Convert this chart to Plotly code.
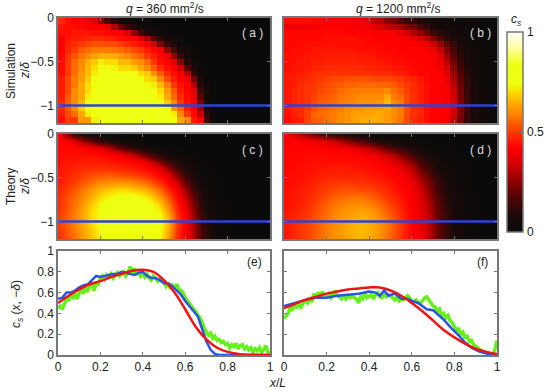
import plotly.graph_objects as go

W, H = 550, 392
FONT = "Liberation Sans"

# ---- panel (a): simulation q=360, percent values, rows from z=0 downward
sim_a = [
[48,44,42,42,40,36,25,16,10,6,4,2,1,1],
[45,44,44,43,42,42,41,38,30,20,12,7,4,2,1,1],
[44,44,45,45,45,44,44,43,42,40,36,25,15,9,5,3,1,1],
[42,45,46,46,47,48,48,47,46,44,43,42,36,28,18,11,6,3,1],
[42,46,48,50,52,53,53,52,52,50,48,46,44,42,33,22,12,7,3,1],
[42,47,50,54,56,58,58,58,57,56,54,52,50,46,43,40,26,16,8,4,1],
[43,49,53,57,60,63,65,65,64,62,60,57,54,50,46,43,38,25,13,6,2,1],
[44,50,56,60,65,68,72,70,70,66,66,62,60,56,50,44,42,36,24,10,4,1],
[44,50,56,60,66,70,74,76,73,70,70,68,64,60,54,48,44,42,34,18,7,2,1],
[44,50,56,62,66,72,78,78,78,78,76,76,70,68,60,54,48,44,40,30,12,4,1],
[46,52,58,62,68,74,78,79,79,80,78,78,76,70,68,60,52,46,42,38,22,7,2],
[46,52,58,64,70,76,78,80,80,80,80,80,80,76,72,66,58,50,44,42,30,10,3],
[46,52,60,64,70,78,80,80,80,80,80,80,78,78,74,70,62,54,46,42,36,14,4,1],
[46,54,60,64,72,78,80,80,80,80,80,80,80,78,76,72,64,56,48,43,38,18,5,1],
[48,54,60,66,74,78,80,80,80,80,80,80,80,80,78,76,68,60,50,44,40,22,6,1],
[48,54,60,68,74,78,80,80,80,80,80,80,80,80,80,78,74,62,55,46,42,28,8,2],
[46,52,56,64,72,76,79,80,80,80,80,80,80,80,80,80,76,72,60,50,43,32,10,2],
[44,50,50,62,62,72,76,78,78,78,80,80,80,80,80,80,80,78,64,60,45,42,15,3],
]

# ---- panel (b): simulation q=1200
sim_b = [
[44,44,44,44,43,43,42,42,42,42,41,40,38,32,30,24,22,18,14,12,9,7,5,4,3,3,2,2,1,1,1,1],
[39,39,40,40,40,41,41,41,41,41,41,40,40,38,35,32,30,28,24,22,16,12,8,5,4,3,2,2,1,1,1,1],
[43,43,43,43,43,43,43,43,43,42,42,42,42,41,41,41,40,38,35,30,26,20,14,10,7,5,4,3,2,1,1,1],
[43,43,43,43,43,43,44,44,44,44,44,43,43,42,42,42,41,41,40,38,34,30,24,16,11,8,6,4,3,2,1,1],
[43,43,44,44,44,44,44,44,44,44,44,44,43,43,43,42,42,42,41,41,40,38,33,26,18,12,8,5,4,2,1,1],
[43,44,44,44,45,45,45,45,45,45,45,44,44,44,43,43,43,42,42,42,41,41,38,32,23,15,9,6,4,3,2,1],
[44,44,44,45,45,45,46,46,46,46,46,46,45,45,44,44,43,43,43,42,42,42,41,36,27,18,11,7,5,3,2,1],
[44,44,45,45,46,46,47,47,47,47,47,46,46,46,45,45,44,44,43,43,42,42,41,39,31,21,13,8,5,3,2,1],
[44,45,45,46,47,47,48,48,48,48,48,48,47,47,46,46,45,45,44,43,43,42,42,40,34,24,14,9,6,3,2,1],
[45,45,46,47,48,49,49,50,49,49,49,49,49,48,48,48,47,46,45,44,43,43,42,41,36,27,17,10,6,4,2,1],
[45,46,47,48,49,50,51,52,52,53,53,53,53,52,52,52,51,50,48,47,45,43,42,41,38,29,19,11,7,4,2,1],
[45,46,48,49,50,51,52,53,54,55,55,56,56,56,55,55,54,52,50,48,46,44,42,41,40,31,20,12,7,4,3,1],
[45,47,48,49,50,52,53,54,56,57,58,58,58,58,58,60,56,54,51,48,46,44,42,41,41,33,21,13,8,5,3,1],
[45,47,48,49,51,53,54,55,57,58,59,60,60,60,60,64,58,56,52,49,46,44,42,42,41,34,22,13,8,5,3,1],
[45,47,48,49,52,54,55,56,58,59,60,61,61,61,62,66,60,58,52,49,47,44,42,42,41,35,23,14,8,5,3,1],
[45,47,48,50,53,55,56,57,58,60,61,61,62,62,63,64,60,58,53,49,47,44,42,42,41,35,23,14,8,5,3,1],
[44,46,48,51,55,56,57,58,60,61,62,63,63,64,64,62,60,58,52,49,47,44,42,42,41,34,22,13,8,5,3,1],
[43,45,46,51,54,55,57,58,60,61,63,64,65,65,64,62,60,57,52,48,46,44,42,41,40,32,21,12,7,5,3,1],
]

# ---- panel (c): theory q=360
thy_c = [
[44,24,12,6,4,2,1,1],
[43,41,36,27,19,13,9,5,3,2,1],
[43,43,43,42,40,37,31,23,16,11,7,4,3,2,1],
[43,44,44,44,44,43,42,41,37,31,23,16,10,6,3,2,1],
[44,45,45,46,46,46,45,44,43,42,41,33,24,15,9,5,3,1],
[45,46,47,48,49,49,49,48,47,46,44,42,38,27,16,9,5,2,1],
[45,47,49,51,53,54,55,54,53,52,50,47,43,38,25,14,7,3,2,1],
[46,48,51,54,57,60,61,62,62,60,58,54,49,42,35,20,10,5,2,1],
[47,50,54,58,62,66,68,70,70,68,66,62,56,48,40,28,14,7,3,1],
[48,52,56,60,65,70,73,75,76,76,73,69,62,54,43,33,18,8,4,1],
[48,52,57,62,68,73,76,78,80,80,78,74,68,58,46,37,21,10,4,2,1],
[49,53,58,64,70,74,78,80,81,81,80,77,72,62,48,40,24,11,5,2,1],
[50,54,59,64,70,74,78,80,81,82,81,78,74,66,50,41,27,13,6,3,1],
[50,54,59,64,70,74,78,80,81,82,81,78,74,66,50,41,28,14,6,3,1],
[49,53,58,63,68,73,76,79,80,81,80,78,74,64,49,41,29,15,7,3,1],
[48,52,57,62,67,72,75,78,79,80,79,77,73,63,48,41,29,15,7,3,1],
]

# ---- panel (d): theory q=1200
thy_d = [
[42,36,29,23,17,13,10,7,5,3,2,1,1],
[42,42,41,40,38,36,32,27,22,17,13,9,7,5,3,2,1,1],
[42,42,42,42,42,42,41,40,38,35,31,26,20,15,11,8,5,3,2,1,1],
[42,43,43,43,43,43,43,43,42,42,40,38,33,28,22,15,10,6,4,2,1,1],
[42,43,43,44,44,44,44,44,44,43,43,42,40,36,31,24,16,10,6,3,2,1,1],
[43,43,44,44,45,45,46,46,45,45,44,43,42,41,37,31,22,14,8,5,3,2,1],
[43,44,44,45,46,47,47,47,47,47,46,45,44,42,41,35,27,18,11,6,4,2,1],
[43,44,45,46,48,49,50,50,50,49,48,47,46,44,41,39,31,22,13,8,4,2,1],
[44,45,46,47,49,51,52,53,53,52,52,50,48,45,42,40,34,25,15,9,5,3,1],
[44,45,46,48,50,53,55,56,57,57,55,53,50,47,44,41,36,27,17,10,6,3,2,1],
[44,45,47,49,52,55,57,59,60,60,59,56,53,49,45,41,37,29,19,11,6,3,2,1],
[44,46,48,50,53,56,59,61,62,63,62,59,55,51,46,42,38,30,20,12,7,4,2,1],
[45,47,49,51,54,57,60,62,64,65,64,61,57,52,47,42,38,31,21,13,7,4,2,1],
[45,47,50,52,55,58,60,63,65,66,65,62,58,53,48,42,39,31,21,13,7,4,2,1],
[45,47,50,52,55,58,61,63,65,66,65,62,58,53,48,42,39,31,21,13,7,4,2,1],
[45,47,50,52,55,58,60,62,64,65,64,61,57,52,47,42,38,30,20,12,7,3,2,1],
]

# ---- panel (e) line profiles
green_e = [.45,.47,.44,.50,.54,.53,.57,.55,.58,.54,
           .60,.62,.59,.64,.62,.66,.68,.62,.69,.68,
           .74,.76,.73,.77,.75,.78,.74,.77,.79,.76,
           .78,.80,.76,.79,.85,.79,.83,.78,.80,.76,
           .79,.75,.78,.74,.72,.76,.74,.71,.73,.72,
           .70,.66,.69,.64,.67,.65,.68,.63,.62,.60,
           .55,.52,.50,.46,.44,.42,.38,.36,.30,.26,
           .22,.19,.21,.16,.18,.14,.15,.12,.13,.10,
           .11,.07,.10,.08,.11,.06,.09,.10,.06,.08,
           .05,.07,.03,.06,.04,.07,.03,.05,.09,.03,.02]
blue_e_x = [0,.02,.04,.06,.08,.1,.12,.14,.16,.18,.2,.22,.24,.26,.28,.3,.32,.34,.36,.38,.4,.42,.44,.46,.48,.5,
            .52,.54,.56,.58,.6,.62,.64,.66,.68,.7,.72,.74,.76,1]
blue_e_y = [.54,.55,.60,.60,.62,.65,.67,.68,.72,.76,.75,.76,.77,.78,.78,.80,.79,.78,.77,.79,.80,.76,.74,.74,.72,.69,
            .69,.66,.62,.58,.52,.47,.42,.37,.25,.13,.05,.01,0,0]
red_e_x = [0,.05,.1,.15,.2,.25,.3,.35,.4,.45,.5,.55,.6,.65,.7,.75,.8,.85,.9,1]
red_e_y = [.50,.57,.63,.68,.71,.75,.78,.81,.82,.80,.72,.60,.44,.27,.15,.07,.03,.01,.003,0]

# ---- panel (f) line profiles
green_f = [.35,.38,.40,.46,.44,.47,.46,.49,.46,.50,
           .52,.50,.55,.51,.59,.55,.60,.57,.61,.56,
           .57,.59,.55,.58,.62,.57,.56,.54,.58,.54,
           .57,.55,.57,.55,.54,.50,.56,.54,.60,.55,
           .57,.58,.54,.58,.60,.56,.55,.58,.56,.58,
           .57,.55,.53,.56,.52,.54,.53,.55,.57,.55,
           .52,.51,.53,.50,.50,.52,.55,.56,.53,.50,
           .47,.46,.42,.44,.38,.40,.36,.38,.33,.31,
           .28,.24,.25,.20,.22,.16,.19,.13,.14,.10,
           .08,.07,.05,.04,.03,.02,.02,.01,.01,.05,.14]
blue_f_x = [0,.05,.1,.15,.2,.25,.3,.35,.4,.43,.45,.47,.49,.52,.55,.58,.6,.63,.67,.7,.75,.78,.82,.85,.88,.92,.96,1]
blue_f_y = [.47,.50,.53,.55,.55,.57,.58,.59,.61,.60,.57,.62,.57,.59,.54,.54,.52,.50,.44,.43,.34,.27,.19,.12,.07,.03,.01,0]
red_f_x = [0,.05,.1,.15,.2,.25,.3,.35,.4,.45,.5,.55,.6,.65,.7,.75,.8,.85,.9,.95,1]
red_f_y = [.45,.49,.53,.56,.59,.61,.63,.64,.65,.65,.62,.57,.50,.42,.33,.24,.17,.11,.06,.03,.01]

line_x = [0, 1]
line_z = [-1, -1]

cmap = [[0, "#0a0a0a"], [.08, "#1c0a0a"], [.16, "#4a0505"], [.25, "#8c0000"], [.34, "#d40000"],
        [.42, "#ff0000"], [.5, "#ff3800"], [.58, "#ff7c00"], [.65, "#ffb000"], [.70, "#ffdc00"],
        [.74, "#eeff10"], [.84, "#eeff18"], [.92, "#ffffa0"], [1, "#ffffff"]]


def grid(rows, ncol):
    return [[v / 100 for v in r] + [0] * (ncol - len(r)) for r in rows]


def dom_x(a, b):
    return [a / W, b / W]


def dom_y(top, bot):
    return [1 - bot / H, 1 - top / H]


fig = go.Figure()
panels = [
    ("", 58, 270, 18, 123), ("2", 284, 497, 18, 123),
    ("3", 58, 270, 134, 239), ("4", 284, 497, 134, 239),
    ("5", 58, 270, 251, 355), ("6", 284, 497, 251, 355),
]
layout = {}
GREY = "#777777"
TICK = dict(family=FONT, size=12, color="#222222")
for i, (s, x0, x1, y0, y1) in enumerate(panels):
    is_map = i < 4
    xa = dict(domain=dom_x(x0, x1), range=[0, 1], anchor="y" + s, showgrid=False, zeroline=False,
              tickvals=[0, .2, .4, .6, .8, 1], ticktext=["0", "0.2", "0.4", "0.6", "0.8", "1"],
              showticklabels=not is_map, ticks="inside", ticklen=3, tickcolor=GREY, linecolor=GREY,
              linewidth=1.5, mirror="ticks", tickfont=TICK)
    if is_map:
        ya = dict(domain=dom_y(y0, y1), range=[-1.2, 0], anchor="x" + s, showgrid=False, zeroline=False,
                  tickvals=[0, -.5, -1], ticktext=["0", "\u22120.5", "\u22121"],
                  showticklabels=i % 2 == 0, ticks="inside", ticklen=3, tickcolor=GREY, linecolor=GREY,
                  linewidth=1.5, mirror="ticks", tickfont=TICK)
    else:
        ya = dict(domain=dom_y(y0, y1), range=[0, 1], anchor="x" + s, showgrid=False, zeroline=False,
                  tickvals=[0, .2, .4, .6, .8, 1], ticktext=["0", "0.2", "0.4", "0.6", "0.8", "1"],
                  showticklabels=i % 2 == 0, ticks="inside", ticklen=3, tickcolor=GREY, linecolor=GREY,
                  linewidth=1.5, mirror="ticks", tickfont=TICK)
    layout["xaxis" + s] = xa
    layout["yaxis" + s] = ya

sim_x = [(j + .5) / 32 for j in range(32)]
sim_y = [-(j + .5) * 1.2 / 18 for j in range(18)]
thy_x = [j * .04 for j in range(26)]
thy_y = [-j * .08 for j in range(16)]

maps = [(sim_a, sim_x, sim_y, False, "x", "y"), (sim_b, sim_x, sim_y, False, "x2", "y2"),
        (thy_c, thy_x, thy_y, "best", "x3", "y3"), (thy_d, thy_x, thy_y, "best", "x4", "y4")]
for k, (rows, xs, ys, smooth, xr, yr) in enumerate(maps):
    fig.add_trace(go.Heatmap(
        z=grid(rows, len(xs)), x=xs, y=ys, zmin=0, zmax=1, zsmooth=smooth, colorscale=cmap, xaxis=xr, yaxis=yr,
        showscale=k == 0, hoverinfo="skip",
        colorbar=dict(x=507 / W, xanchor="left", y=1 - 32 / H, yanchor="top", len=200 / H,
                      lenmode="fraction", thickness=16, thicknessmode="pixels", tickvals=[0, .5, 1],
                      showticklabels=False, ticks="inside", ticklen=3, tickcolor=GREY, outlinecolor=GREY,
                      outlinewidth=1.5, xpad=0, ypad=0)))
    fig.add_trace(go.Scatter(x=line_x, y=line_z, mode="lines", xaxis=xr, yaxis=yr,
                             line=dict(color="#2b44d8", width=2.5), showlegend=False))

GREEN, BLUE, RED = "#66f01a", "#2a55e0", "#ee1515"
step_x = [j / 100 for j in range(101)]
for gy, bx, by, rx, ry, xr, yr in [(green_e, blue_e_x, blue_e_y, red_e_x, red_e_y, "x5", "y5"),
                                   (green_f, blue_f_x, blue_f_y, red_f_x, red_f_y, "x6", "y6")]:
    fig.add_trace(go.Scatter(x=step_x, y=gy, mode="lines", xaxis=xr, yaxis=yr, line=dict(color=GREEN, width=3.5),
                             showlegend=False))
    fig.add_trace(go.Scatter(x=bx, y=by, mode="lines", xaxis=xr, yaxis=yr, line=dict(color=BLUE, width=2.5),
                             showlegend=False))
    fig.add_trace(go.Scatter(x=rx, y=ry, mode="lines", xaxis=xr, yaxis=yr, line=dict(color=RED, width=2.5, shape="spline"),
                             showlegend=False))


def text(px, py, t, size=12, color="#222222", angle=0, anchor="center"):
    return dict(x=px / W, y=1 - py / H, xref="paper", yref="paper", text=t, showarrow=False,
                textangle=angle, font=dict(family=FONT, size=size, color=color), xanchor=anchor, yanchor="middle")


notes = [
    text(165, 8, "<i>q</i> = 360 mm<sup>2</sup>/s", 12),
    text(398, 8, "<i>q</i> = 1200 mm<sup>2</sup>/s", 12),
    text(11, 71, "Simulation", 12, angle=-90),
    text(25, 71, "<i>z</i>/<i>\u03b4</i>", 12, angle=-90),
    text(11, 187, "Theory", 12, angle=-90),
    text(25, 187, "<i>z</i>/<i>\u03b4</i>", 12, angle=-90),
    text(17, 304, "<i>c<sub>s</sub></i> (<i>x</i>, \u2212<i>\u03b4</i>)", 12, angle=-90),
    text(277, 383, "<i>x</i>/<i>L</i>", 12),
    text(516, 20, "<i>c<sub>s</sub></i>", 12),
    text(252, 33, "( a )", 12, "#dddddd"),
    text(480, 33, "( b )", 12, "#dddddd"),
    text(252, 150, "( c )", 12, "#dddddd"),
    text(480, 150, "( d )", 12, "#dddddd"),
    text(254, 262, "(e)", 12),
    text(482, 262, "(f)", 12),
    text(525, 32, "1", 12, anchor="left"),
    text(525, 132, "0.5", 12, anchor="left"),
    text(525, 232, "0", 12, anchor="left"),
]

fig.update_layout(template="none", width=W, height=H, margin=dict(l=0, r=0, t=0, b=0, autoexpand=False),
                  paper_bgcolor="white", plot_bgcolor="white", showlegend=False, annotations=notes, **layout)
fig.write_html("out.html", config={"displayModeBar": False},
               post_script="document.body.style.margin='0';document.body.style.overflow='hidden';")
